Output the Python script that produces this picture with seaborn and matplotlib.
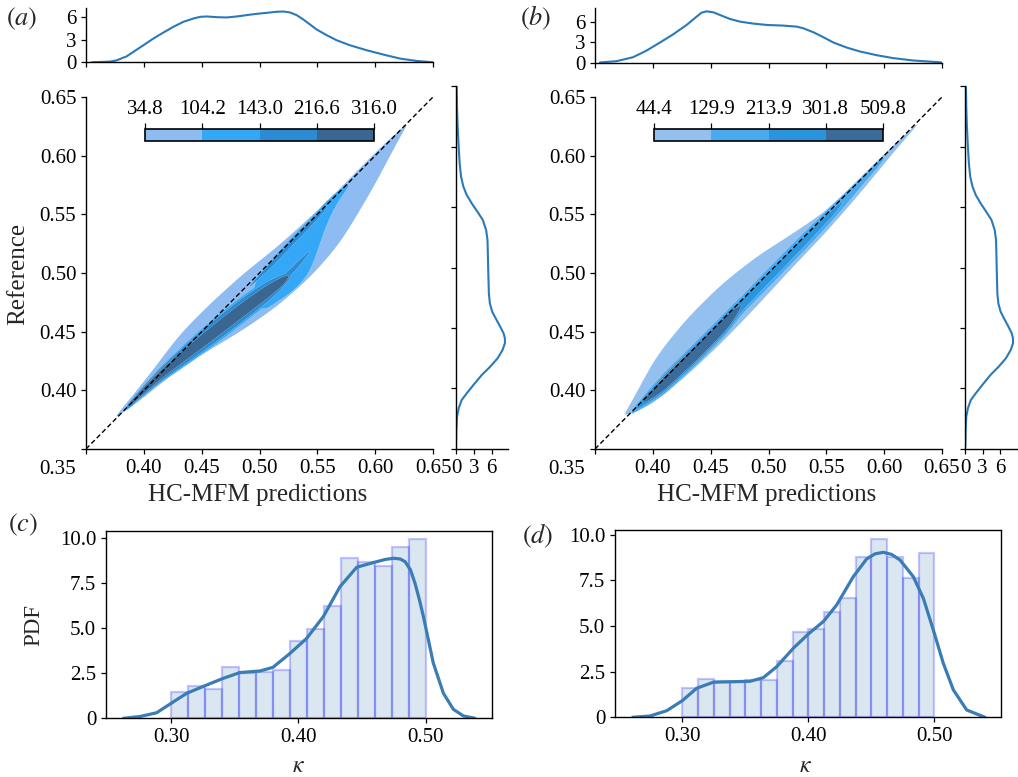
import numpy as np
import matplotlib
matplotlib.use("Agg")
import matplotlib.pyplot as plt
from matplotlib.transforms import ScaledTranslation
import seaborn as sns

# ---------------- data ----------------
A_LEVELS = [34.8, 104.2, 143.0, 216.6, 316.0]
B_LEVELS = [44.4, 129.9, 213.9, 301.8, 509.8]
A_COLORS = ['#8dbbf2', '#35a7f7', '#2b8bd3', '#3a6791']
B_COLORS = ['#93c0ee', '#4aaaf0', '#2a94dc', '#3a6b9a']

# ridge tables of the joint density: position along x, offset (y - x) of the ridge,
# spread, peak density   -- panel (a)
A_ENV_X = [0.376, 0.39, 0.41, 0.43, 0.457, 0.486, 0.515, 0.544, 0.57, 0.60, 0.627]
A_ENV_C = [0.002, 0.0005, 0.001, 0.00225, -0.003, -0.0105, -0.0183, -0.022, -0.021, -0.011, 0.0]
A_ENV_S = [0.0003, 0.0038, 0.0076, 0.0122, 0.0165, 0.0202, 0.0214, 0.0216, 0.0198, 0.0115, 0.0003]
A_ENV_P = [70, 70, 70, 70, 70, 70, 70, 70, 70, 70, 70]

A_LOW_X = [0.385, 0.40, 0.415, 0.443, 0.465, 0.486, 0.505, 0.52, 0.527]
A_LOW_C = [0.0, 0.0, -0.0012, -0.0068, -0.0118, -0.0168, -0.0222, -0.027, -0.029]
A_LOW_S = [0.0018, 0.0035, 0.005, 0.0074, 0.0085, 0.0085, 0.0078, 0.0052, 0.002]
A_LOW_P = [290, 290, 290, 290, 290, 290, 290, 290, 290]

A_UP_X = [0.492, 0.50, 0.515, 0.53, 0.545, 0.555, 0.5636, 0.58]
A_UP_C = [-0.008, -0.0185, -0.019, -0.021, -0.0205, -0.009, -0.003, -0.0015]
A_UP_S = [0.0013, 0.0212, 0.027, 0.0309, 0.0302, 0.0154, 0.0081, 0.001]
A_UP_P = [125, 125, 125, 125, 125, 125, 125, 125]

A_MID_X = [0.505, 0.52, 0.535, 0.545]
A_MID_C = [-0.021, -0.026, -0.026, -0.025]
A_MID_S = [0.004, 0.005, 0.004, 0.001]
A_MID_P = [180, 180, 180, 180]

A_DIAG_X = [0.49, 0.51, 0.55, 0.56]
A_DIAG_C = [-0.003, -0.003, -0.002, -0.002]
A_DIAG_S = [0.001, 0.004, 0.004, 0.001]
A_DIAG_P = [180, 180, 180, 180]

# panel (b)
B_ENV_X = [0.376, 0.385, 0.40, 0.43, 0.46, 0.49, 0.52, 0.55, 0.58, 0.61, 0.629]
B_ENV_C = [0.004, 0.003, 0.007, 0.0075, 0.006, 0.003, -0.0015, -0.006, -0.0045, -0.002, -0.002]
B_ENV_S = [0.0003, 0.006, 0.0155, 0.0205, 0.021, 0.0178, 0.0122, 0.0076, 0.0055, 0.0025, 0.0003]
B_ENV_P = [90, 90, 90, 90, 90, 90, 90, 90, 90, 90, 90]

B_STR_X = [0.38, 0.395, 0.41, 0.44, 0.465, 0.475, 0.50, 0.53, 0.555, 0.58, 0.60, 0.61]
B_STR_C = [0.0, -0.002, -0.004, -0.006, -0.006, -0.0045, -0.004, -0.004, -0.004, -0.003, -0.002, -0.001]
B_STR_S = [0.002, 0.0045, 0.0058, 0.0064, 0.0064, 0.0064, 0.007, 0.007, 0.0063, 0.0052, 0.004, 0.001]
B_STR_P = [150, 350, 509, 509, 480, 290, 270, 260, 240, 170, 150, 0]

# marginal densities
A_TOP_X = [0.3549, 0.3707, 0.3765, 0.3852, 0.3909, 0.3996, 0.4082, 0.4169, 0.4255, 0.4341, 0.4428,
           0.4486, 0.4543, 0.4630, 0.4716, 0.4803, 0.4889, 0.4975, 0.5062, 0.5148, 0.5206, 0.5264,
           0.5321, 0.5379, 0.5437, 0.5494, 0.5581, 0.5667, 0.5782, 0.5927, 0.6071, 0.6215, 0.6359, 0.6503]
A_TOP_Y = [0.0, 0.09, 0.26, 0.79, 1.37, 2.25, 3.13, 3.93, 4.68, 5.34, 5.78,
           6.0, 6.05, 5.96, 5.92, 6.05, 6.23, 6.4, 6.53, 6.67, 6.71, 6.58,
           6.23, 5.65, 4.99, 4.33, 3.58, 2.91, 2.25, 1.59, 1.02, 0.49, 0.18, 0.0]
B_TOP_X = [0.3543, 0.3687, 0.3831, 0.3947, 0.4062, 0.4177, 0.4292, 0.4379, 0.4422, 0.4465, 0.4523,
           0.4581, 0.4667, 0.4754, 0.4869, 0.4984, 0.5128, 0.5243, 0.5301, 0.5388, 0.5474, 0.5561,
           0.5676, 0.5791, 0.5935, 0.6079, 0.6252, 0.6425, 0.65]
B_TOP_Y = [0.0, 0.2, 0.8, 1.79, 2.98, 4.21, 5.6, 6.84, 7.43, 7.63, 7.48,
           7.08, 6.49, 6.09, 5.8, 5.6, 5.5, 5.35, 5.1, 4.51, 3.77, 2.98,
           2.23, 1.64, 1.09, 0.65, 0.3, 0.1, 0.0]
REF_Y = [0.3519, 0.3657, 0.3767, 0.3836, 0.3905, 0.3960, 0.4029, 0.4112, 0.4180, 0.4249, 0.4318,
         0.4373, 0.4415, 0.4456, 0.4511, 0.4572, 0.4635, 0.4704, 0.4787, 0.4897, 0.5007, 0.5117,
         0.5227, 0.5310, 0.5393, 0.5461, 0.5530, 0.5599, 0.5668, 0.5751, 0.5861, 0.5999, 0.6164,
         0.6329, 0.6494]
REF_D = [0.0, 0.06, 0.17, 0.45, 0.96, 1.81, 2.94, 4.36, 5.77, 7.02, 7.86,
         8.26, 8.26, 8.04, 7.47, 6.79, 6.11, 5.72, 5.55, 5.49, 5.43, 5.38,
         5.32, 5.09, 4.53, 3.62, 2.66, 1.81, 1.25, 0.85, 0.62, 0.45, 0.28,
         0.17, 0.11]

# histograms of kappa
C_HEIGHTS = [1.44, 1.8, 1.65, 2.85, 2.54, 2.57, 2.69, 4.3, 4.96, 6.26, 8.9, 8.7, 8.48, 9.54, 9.98]
D_HEIGHTS = [1.61, 2.08, 1.99, 1.92, 2.04, 2.04, 3.10, 4.69, 4.82, 5.75, 6.55, 8.78, 9.78, 8.78, 7.65, 8.98]
C_KDE_X = [0.2626, 0.2757, 0.2887, 0.300, 0.3123, 0.328, 0.341, 0.354, 0.370, 0.380, 0.3935, 0.4065,
           0.4196, 0.4327, 0.4458, 0.4589, 0.4680, 0.4746, 0.4800, 0.4838, 0.4880, 0.4916, 0.4950,
           0.4982, 0.506, 0.5139, 0.5217, 0.5296, 0.5387]
C_KDE_Y = [0.0, 0.1, 0.31, 0.83, 1.39, 1.85, 2.22, 2.54, 2.63, 2.83, 3.61, 4.44,
           5.65, 7.31, 8.39, 8.65, 8.82, 8.89, 8.85, 8.70, 8.25, 7.5, 6.6,
           5.65, 3.06, 1.39, 0.5, 0.13, 0.0]
D_KDE_X = [0.2606, 0.2743, 0.2876, 0.300, 0.3114, 0.3246, 0.3405, 0.3537, 0.3643, 0.3749, 0.3881, 0.400,
           0.4119, 0.4225, 0.4357, 0.4463, 0.4530, 0.4595, 0.4660, 0.4728, 0.4833, 0.4913, 0.4992,
           0.5071, 0.5151, 0.5257, 0.5402]
D_KDE_Y = [0.0, 0.07, 0.36, 0.91, 1.59, 1.92, 1.95, 1.97, 2.17, 2.77, 3.78, 4.56,
           5.24, 6.15, 7.70, 8.67, 8.95, 9.03, 8.92, 8.61, 7.70, 6.51, 4.78,
           2.96, 1.50, 0.40, 0.0]

AX_TICKS = [0.35, 0.40, 0.45, 0.50, 0.55, 0.60, 0.65]

# ---------------- style ----------------
sns.set_theme(style="ticks")
plt.rcParams['font.family'] = ['Liberation Serif', 'DejaVu Serif']
plt.rcParams['mathtext.fontset'] = 'stix'
plt.rcParams['axes.linewidth'] = 1.0
plt.rcParams['xtick.major.size'] = 3.5
plt.rcParams['ytick.major.size'] = 3.5
plt.rcParams['xtick.major.width'] = 0.9
plt.rcParams['ytick.major.width'] = 0.9
plt.rcParams['xtick.color'] = 'black'
plt.rcParams['ytick.color'] = 'black'
plt.rcParams['axes.edgecolor'] = 'black'

W, H = 1018, 777
fig = plt.figure(figsize=(W / 100, H / 100), dpi=100)


def fax(l, t, r, b):
    return fig.add_axes([l / W, 1 - b / H, (r - l) / W, (b - t) / H])


LINE_C = '#2a7ab9'
TS = 15

gx = np.linspace(0.35, 0.65, 801)
GX, GY = np.meshgrid(gx, gx)
STEP = gx[1] - gx[0]


def smooth(arr, sigma):
    sig = sigma / STEP
    half = int(4 * sig)
    k = np.arange(-half, half + 1)
    w = np.exp(-0.5 * (k / sig) ** 2)
    w /= w.sum()
    return np.convolve(np.pad(arr, half, mode='edge'), w, mode='valid')


def ridge(xs, cs, ss, ps, floor=0.0, p=2.0, sm=0.005):
    c = smooth(np.interp(gx, xs, cs), sm)[None, :]
    s = np.maximum(smooth(np.interp(gx, xs, ss), sm), 2e-4)[None, :]
    a = smooth(np.interp(gx, xs, ps, left=0.0, right=0.0), sm * 0.6)[None, :]
    z = a * np.exp(-0.5 * np.abs((GY - GX - c) / s) ** p)
    return np.where(z >= floor, z, 0.0)


def joint_panel(main, top, right, field, levels, colors, top_x, top_y, top_lim, right_lim):
    field = np.minimum(field, levels[-1] * 0.999)
    cs = main.contourf(gx, gx, field, levels=levels, colors=colors, antialiased=True)
    main.axline((0.35, 0.35), (0.65, 0.65), color='black', ls=(0, (3.5, 2)), lw=1.0, zorder=5)
    main.set_xlim(0.35, 0.65)
    main.set_ylim(0.35, 0.65)
    main.set_xticks(AX_TICKS)
    main.set_yticks(AX_TICKS)
    main.set_xticklabels([''] + [f'{t:.2f}' for t in AX_TICKS[1:]])
    main.set_yticklabels([f'{t:.2f}' for t in AX_TICKS])
    main.tick_params(labelsize=TS)
    lab = main.get_yticklabels()[0]
    lab.set_transform(lab.get_transform() + ScaledTranslation(0, -18 / 100, fig.dpi_scale_trans))
    sns.despine(ax=main)

    cax = main.inset_axes([0.170, 0.875, 0.66, 0.0327])
    cb = fig.colorbar(cs, cax=cax, orientation='horizontal', ticks=levels)
    cax.xaxis.set_ticks_position('top')
    cax.set_xticklabels([f'{v:.1f}' for v in levels])
    cax.tick_params(labelsize=TS, length=4, width=0.9)
    cb.outline.set_linewidth(1.2)

    sns.lineplot(x=top_x, y=top_y, ax=top, color=LINE_C, lw=1.5, sort=False, estimator=None)
    top.set_xlim(0.35, 0.65)
    top.set_ylim(0, top_lim)
    top.set_xticks(AX_TICKS)
    top.set_xticklabels([])
    top.set_yticks([0, 3, 6])
    top.tick_params(labelsize=TS)
    sns.despine(ax=top)

    sns.lineplot(x=REF_D, y=REF_Y, ax=right, color=LINE_C, lw=1.5, sort=False,
                 estimator=None, orient='y')
    right.set_ylim(0.35, 0.65)
    right.set_xlim(0, right_lim)
    right.set_yticks(AX_TICKS)
    right.set_yticklabels([])
    right.set_xticks([0, 3, 6])
    right.tick_params(labelsize=TS)
    right.set_xlabel('')
    right.set_ylabel('')
    sns.despine(ax=right)


# ---------- panel (a) ----------
fa = np.maximum.reduce([
    ridge(A_ENV_X, A_ENV_C, A_ENV_S, A_ENV_P, sm=0.008),
    ridge(A_LOW_X, A_LOW_C, A_LOW_S, A_LOW_P, floor=A_LEVELS[1]),
    ridge(A_UP_X, A_UP_C, A_UP_S, A_UP_P, floor=A_LEVELS[1], p=4.0),
    ridge(A_MID_X, A_MID_C, A_MID_S, A_MID_P, floor=A_LEVELS[2], sm=0.003),
    ridge(A_DIAG_X, A_DIAG_C, A_DIAG_S, A_DIAG_P, floor=A_LEVELS[2], sm=0.003),
])
ax_a = fax(86, 97, 433, 449)
ax_at = fax(86, 8.3, 433, 62.3)
ax_ar = fax(456, 86, 507.5, 449)
joint_panel(ax_a, ax_at, ax_ar, fa, A_LEVELS, A_COLORS, A_TOP_X, A_TOP_Y, 7.13, 8.7)

# ---------- panel (b) ----------
fb = np.maximum.reduce([
    ridge(B_ENV_X, B_ENV_C, B_ENV_S, B_ENV_P, sm=0.008),
    ridge(B_STR_X, B_STR_C, B_STR_S, B_STR_P, floor=B_LEVELS[1]),
])
ax_b = fax(595, 97, 942, 449)
ax_bt = fax(595, 8.3, 942, 62.5)
ax_br = fax(965.3, 86, 1017, 449)
joint_panel(ax_b, ax_bt, ax_br, fb, B_LEVELS, B_COLORS, B_TOP_X, B_TOP_Y, 8.08, 8.95)


# ---------- histograms ----------
def hist_panel(ax, heights, kx, ky, xlim, ylim):
    n = len(heights)
    edges = np.linspace(0.30, 0.50, n + 1)
    centers = 0.5 * (edges[:-1] + edges[1:])
    sns.histplot(x=centers, weights=heights, bins=n, binrange=(0.30, 0.50), stat='count',
                 color='steelblue', edgecolor=(0.0, 0.0, 1.0, 0.22), alpha=0.2,
                 linewidth=1.6, ax=ax)
    sns.lineplot(x=kx, y=ky, ax=ax, color='#3a7db4', lw=2.3, sort=False, estimator=None)
    ax.set_xlim(*xlim)
    ax.set_ylim(*ylim)
    ax.set_xticks([0.30, 0.40, 0.50])
    ax.set_xticklabels(['0.30', '0.40', '0.50'])
    ax.set_yticks([0, 2.5, 5.0, 7.5, 10.0])
    ax.set_yticklabels(['0', '2.5', '5.0', '7.5', '10.0'])
    ax.tick_params(labelsize=TS)
    ax.set_xlabel('')
    ax.set_ylabel('')


ax_c = fax(106, 530.7, 492.3, 718.3)
hist_panel(ax_c, C_HEIGHTS, C_KDE_X, C_KDE_Y, (0.2489, 0.5523), (0, 10.42))
ax_d = fax(615, 529.7, 1001, 717.3)
hist_panel(ax_d, D_HEIGHTS, D_KDE_X, D_KDE_Y, (0.2466, 0.5529), (0, 10.27))


# ---------- texts ----------
def ftext(x, y, s, **kw):
    fig.text(x / W, 1 - y / H, s, **kw)


ftext(18, 274, 'Reference', fontsize=18, rotation=90, ha='center', va='center')
ftext(257.5, 501, 'HC-MFM predictions', fontsize=18, ha='center', va='baseline')
ftext(766.7, 501, 'HC-MFM predictions', fontsize=18, ha='center', va='baseline')
ftext(34, 625, 'PDF', fontsize=16.5, rotation=90, ha='center', va='center')
ftext(298, 767, r'$\kappa$', fontsize=17, ha='center', va='center')
ftext(805, 767, r'$\kappa$', fontsize=17, ha='center', va='center')
ftext(21.7, 19, r'$(a)$', fontsize=19, ha='center', va='center')
ftext(536, 18, r'$(b)$', fontsize=19, ha='center', va='center')
ftext(22.5, 525, r'$(c)$', fontsize=19, ha='center', va='center')
ftext(538, 536, r'$(d)$', fontsize=19, ha='center', va='center')

fig.savefig('out.png', dpi=100)
